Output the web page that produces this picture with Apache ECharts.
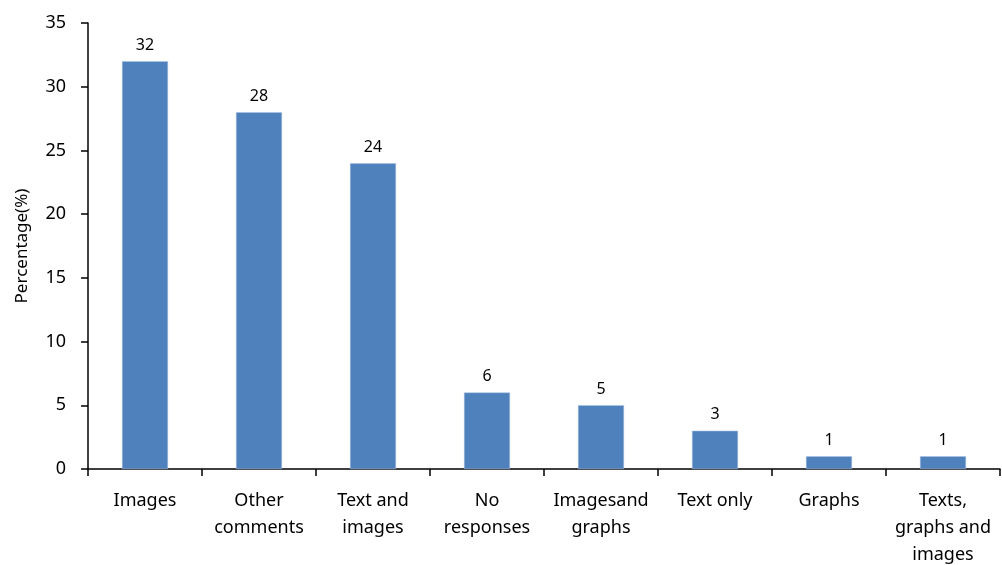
<!DOCTYPE html>
<html>
<head>
<meta charset="utf-8">
<script src="https://cdn.jsdelivr.net/npm/echarts@6/dist/echarts.min.js"></script>
<style>
  html, body { margin: 0; padding: 0; background: #fff; }
  #chart { width: 1002px; height: 565px; }
</style>
</head>
<body>
<div id="chart"></div>
<script>
  var categories = ['Images', 'Other\ncomments', 'Text and\nimages', 'No\nresponses', 'Imagesand\ngraphs', 'Text only', 'Graphs', 'Texts,\ngraphs and\nimages'];
  var percentages = [32, 28, 24, 6, 5, 3, 1, 1];
  var yTicks = { min: 0, max: 35, step: 5 };

  var font = 'Noto Sans';
  var chart = echarts.init(document.getElementById('chart'));
  var option = {
    animation: false,
    textStyle: { fontFamily: font },
    grid: { left: 88, right: 2, top: 23, bottom: 96, outerBoundsMode: 'none', containLabel: false },
    xAxis: {
      type: 'category',
      data: categories,
      boundaryGap: true,
      axisLine: { lineStyle: { color: '#000', width: 1.5 } },
      axisTick: { show: true, length: 7, lineStyle: { color: '#000', width: 1.5 } },
      axisLabel: {
        color: '#000', fontSize: 18, fontFamily: font,
        margin: 18, lineHeight: 27, interval: 0
      },
      splitLine: { show: false }
    },
    yAxis: {
      type: 'value',
      min: yTicks.min,
      max: yTicks.max,
      interval: yTicks.step,
      name: 'Percentage(%)',
      nameLocation: 'middle',
      nameGap: 57,
      nameTextStyle: { color: '#000', fontSize: 17, fontFamily: font },
      axisLine: { show: true, lineStyle: { color: '#000', width: 1.5 } },
      axisTick: { show: true, length: 7, lineStyle: { color: '#000', width: 1.5 } },
      axisLabel: { color: '#000', fontSize: 18, fontFamily: font, margin: 22 },
      splitLine: { show: false }
    },
    series: [{
      type: 'bar',
      data: percentages,
      barWidth: 46,
      itemStyle: { color: '#4F81BD', borderColor: '#A9C1E0', borderWidth: 0.5 },
      label: {
        show: true, position: 'top', distance: 8,
        color: '#000', fontSize: 16, fontFamily: font
      }
    }]
  };
  chart.setOption(option);
</script>
</body>
</html>
